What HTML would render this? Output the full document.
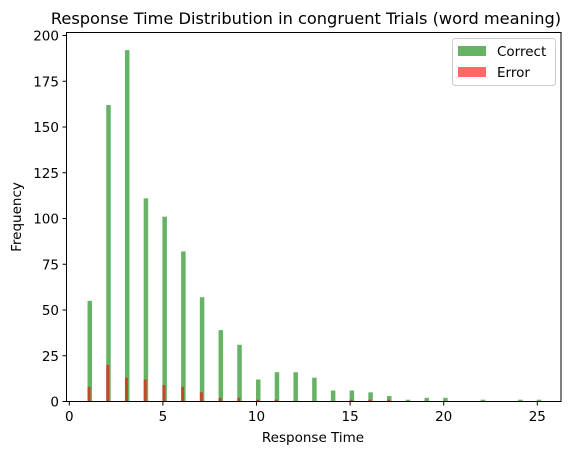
<!DOCTYPE html>
<html><head><meta charset="utf-8">
<style>
body{margin:0;background:#fff;width:585px;height:455px;overflow:hidden;font-family:"Liberation Sans","DejaVu Sans",sans-serif;}
svg text{font-family:"DejaVu Sans","Liberation Sans",sans-serif;}
</style></head>
<body>
<svg id="chart" width="585" height="455" xmlns="http://www.w3.org/2000/svg">
<text x="306" y="24" font-size="16.2" text-anchor="middle">Response Time Distribution in congruent Trials (word meaning)</text>
<g id="bars"></g>
<rect x="66.5" y="32.5" width="494.5" height="369" fill="none" stroke="#000" stroke-width="1"/>
<g id="axes"></g>
<text x="313" y="442" font-size="13.5" text-anchor="middle">Response Time</text>
<text x="21" y="217" font-size="13.5" text-anchor="middle" transform="rotate(-90 21 217)">Frequency</text>
<g>
<rect x="452.5" y="38.5" width="103" height="47" rx="3" fill="#fff" stroke="#ccc"/>
<rect x="458" y="46" width="28" height="10" fill="#008000" fill-opacity="0.6"/>
<text x="497" y="56" font-size="13.5">Correct</text>
<rect x="458" y="67" width="28" height="10" fill="#ff0000" fill-opacity="0.6"/>
<text x="497" y="77" font-size="13.5">Error</text>
</g>
</svg>
<script>
const correctTimes=[1,2,3,4,5,6,7,8,9,10,11,12,13,14,15,16,17,18,19,20,22,24,25];
const correctCounts=[55,162,192,111,101,82,57,39,31,12,16,16,13,6,6,5,3,1,2,2,1,1,1];
const errorTimes=[1,2,3,4,5,6,7,8,9,10,11,15,16,17];
const errorCounts=[8,20,13,12,9,8,5,2,2,1,1,1,1,1];
const xTicks=[0,5,10,15,20,25];
const yTicks=[0,25,50,75,100,125,150,175,200];
const NS="http://www.w3.org/2000/svg";
const x=v=>69.3+v*18.72;
const y=v=>401.5-v*1.83;
const bars=document.getElementById('bars');
correctTimes.forEach((t,i)=>{
 const r=document.createElementNS(NS,'rect');
 r.setAttribute('x',x(t)-0.5);r.setAttribute('width',4.5);
 r.setAttribute('y',y(correctCounts[i]));r.setAttribute('height',y(0)-y(correctCounts[i]));
 r.setAttribute('fill','#008000');r.setAttribute('fill-opacity','0.6');
 
 
 bars.appendChild(r);
});
errorTimes.forEach((t,i)=>{
 const r=document.createElementNS(NS,'rect');
 r.setAttribute('x',x(t)-0.5);r.setAttribute('width',3);
 r.setAttribute('y',y(errorCounts[i]));r.setAttribute('height',y(0)-y(errorCounts[i]));
 r.setAttribute('fill','#ff0000');r.setAttribute('fill-opacity','0.6');
 
 
 bars.appendChild(r);
});
const axes=document.getElementById('axes');
xTicks.forEach(v=>{
 const l=document.createElementNS(NS,'line');
 l.setAttribute('x1',x(v));l.setAttribute('x2',x(v));l.setAttribute('y1',401.5);l.setAttribute('y2',405.5);l.setAttribute('stroke','#000');
 
 
 axes.appendChild(l);
 const tx=document.createElementNS(NS,'text');
 tx.setAttribute('x',x(v));tx.setAttribute('y',421);tx.setAttribute('font-size','13.5');tx.setAttribute('text-anchor','middle');
 tx.textContent=v;
 
 
 axes.appendChild(tx);
});
yTicks.forEach(v=>{
 const l=document.createElementNS(NS,'line');
 l.setAttribute('x1',62.5);l.setAttribute('x2',66.5);l.setAttribute('y1',y(v));l.setAttribute('y2',y(v));l.setAttribute('stroke','#000');
 
 
 axes.appendChild(l);
 const tx=document.createElementNS(NS,'text');
 tx.setAttribute('x',59);tx.setAttribute('y',y(v)+5);tx.setAttribute('font-size','13.5');tx.setAttribute('text-anchor','end');
 tx.textContent=v;
 
 
 axes.appendChild(tx);
});
</script>
</body></html>
